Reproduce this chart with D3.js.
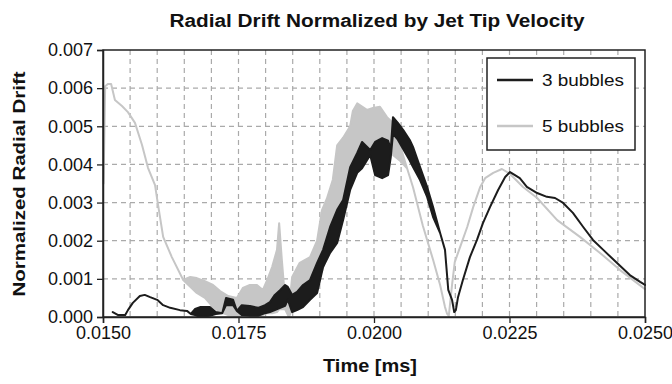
<!DOCTYPE html>
<html>
<head>
<meta charset="utf-8">
<script src="https://cdn.jsdelivr.net/npm/d3@7"></script>
<style>
  body { margin: 0; background: #fff; }
  text { font-family: "Liberation Sans", Arial, sans-serif; fill: #111; }
</style>
</head>
<body>
<script>
// values: [time, low, high] (high omitted where the trace is a single line)
const bubbles3 = [
  [0.01518, 0.00013], [0.01528, 0.00005], [0.01541, 0.00005], [0.01546, 0.00018],
  [0.01555, 0.00037], [0.01568, 0.00055], [0.01577, 0.00058], [0.01587, 0.00052],
  [0.01600, 0.00045], [0.01611, 0.00031], [0.01624, 0.00024], [0.01642, 0.00018],
  [0.01655, 0.00016], [0.01662, 0.00008], [0.01670, 0.00005, 0.00021], [0.01679, 0.00000, 0.00026],
  [0.01697, 0.00003, 0.00026], [0.01708, 0.00008, 0.00013], [0.01720, 0.00010],
  [0.01727, 0.00031, 0.00050], [0.01740, 0.00031, 0.00045], [0.01747, 0.00016],
  [0.01756, 0.00005, 0.00031], [0.01771, 0.00003, 0.00029], [0.01786, 0.00003, 0.00024],
  [0.01799, 0.00010, 0.00031], [0.01808, 0.00013, 0.00039], [0.01817, 0.00018, 0.00058],
  [0.01827, 0.00024, 0.00071], [0.01836, 0.00029, 0.00084], [0.01841, 0.00045, 0.00079],
  [0.01849, 0.00013, 0.00058], [0.01858, 0.00018, 0.00066], [0.01869, 0.00026, 0.00084],
  [0.01882, 0.00045, 0.00097], [0.01895, 0.00063, 0.00142], [0.01906, 0.00131, 0.00176],
  [0.01919, 0.00168, 0.00236], [0.01932, 0.00194, 0.00281], [0.01943, 0.00254, 0.00307],
  [0.01956, 0.00333, 0.00393], [0.01969, 0.00378, 0.00430], [0.01978, 0.00390, 0.00459],
  [0.01993, 0.00425, 0.00438], [0.02002, 0.00372, 0.00459], [0.02015, 0.00364, 0.00469],
  [0.02026, 0.00372, 0.00462], [0.02031, 0.00420, 0.00440], [0.02035, 0.00480, 0.00524],
  [0.02044, 0.00465, 0.00509], [0.02054, 0.00440, 0.00490], [0.02066, 0.00410, 0.00464],
  [0.02072, 0.00393, 0.00446], [0.02085, 0.00359, 0.00393], [0.02098, 0.00315, 0.00341],
  [0.02109, 0.00262, 0.00288], [0.02122, 0.00220], [0.02131, 0.00176], [0.02137, 0.00071],
  [0.02144, 0.00045], [0.02148, 0.00013], [0.02151, 0.00018], [0.02155, 0.00052],
  [0.02164, 0.00097], [0.02177, 0.00157], [0.02190, 0.00202], [0.02201, 0.00246],
  [0.02214, 0.00288], [0.02229, 0.00333], [0.02242, 0.00367], [0.02251, 0.00380],
  [0.02269, 0.00364], [0.02282, 0.00341], [0.02301, 0.00325], [0.02319, 0.00315],
  [0.02334, 0.00312], [0.02349, 0.00299], [0.02367, 0.00273], [0.02386, 0.00236],
  [0.02404, 0.00202], [0.02423, 0.00176], [0.02448, 0.00142], [0.02472, 0.00110],
  [0.02491, 0.00092], [0.02500, 0.00084]
];

const bubbles5 = [
  [0.01501, 0.00350], [0.01504, 0.00605], [0.01509, 0.00611], [0.01515, 0.00611],
  [0.01522, 0.00569], [0.01535, 0.00553], [0.01546, 0.00537], [0.01559, 0.00509],
  [0.01572, 0.00451], [0.01583, 0.00391], [0.01596, 0.00346], [0.01601, 0.00299],
  [0.01611, 0.00210], [0.01627, 0.00157], [0.01648, 0.00097],
  [0.01661, 0.00079, 0.00105], [0.01673, 0.00063, 0.00102], [0.01688, 0.00050, 0.00094],
  [0.01703, 0.00026, 0.00084], [0.01716, 0.00013, 0.00068], [0.01731, 0.00005, 0.00055],
  [0.01747, 0.00003, 0.00050], [0.01758, 0.00003, 0.00076], [0.01771, 0.00005, 0.00084],
  [0.01784, 0.00005, 0.00084], [0.01795, 0.00005, 0.00071], [0.01803, 0.00010, 0.00097],
  [0.01812, 0.00010, 0.00131], [0.01821, 0.00013, 0.00176], [0.01825, 0.00020, 0.00246],
  [0.01830, 0.00020, 0.00149], [0.01836, 0.00020, 0.00045], [0.01843, 0.00000, 0.00020],
  [0.01849, 0.00020, 0.00105], [0.01863, 0.00026, 0.00142], [0.01882, 0.00070, 0.00157],
  [0.01895, 0.00097, 0.00200], [0.01904, 0.00120, 0.00280], [0.01913, 0.00160, 0.00310],
  [0.01924, 0.00200, 0.00360], [0.01932, 0.00240, 0.00450], [0.01943, 0.00280, 0.00470],
  [0.01956, 0.00370, 0.00500], [0.01961, 0.00390, 0.00540], [0.01969, 0.00440, 0.00560],
  [0.01987, 0.00440, 0.00543], [0.01998, 0.00445, 0.00548], [0.02011, 0.00440, 0.00551],
  [0.02024, 0.00440, 0.00524], [0.02035, 0.00425, 0.00509], [0.02048, 0.00410, 0.00450],
  [0.02061, 0.00390], [0.02072, 0.00340], [0.02090, 0.00240], [0.02109, 0.00150],
  [0.02122, 0.00084], [0.02131, 0.00026], [0.02135, 0.00008], [0.02138, 0.00003],
  [0.02144, 0.00084], [0.02149, 0.00144], [0.02159, 0.00184], [0.02172, 0.00236],
  [0.02183, 0.00288], [0.02196, 0.00341], [0.02205, 0.00364], [0.02220, 0.00378],
  [0.02236, 0.00388], [0.02251, 0.00375], [0.02275, 0.00341], [0.02301, 0.00312],
  [0.02338, 0.00254], [0.02380, 0.00210], [0.02417, 0.00168], [0.02454, 0.00123],
  [0.02500, 0.00073]
];

const xTicks = [0.0150, 0.0175, 0.0200, 0.0225, 0.0250];
const xGrid = d3.range(31, 50).map(i => i * 0.0005);
const yTicks = [0, 0.001, 0.002, 0.003, 0.004, 0.005, 0.006, 0.007];
const seriesNames = ['3 bubbles', '5 bubbles'];
const seriesColours = ['#1c1c1c', '#c6c6c6'];

const W = 672, H = 384;
const plot = { left: 103, right: 645, top: 50, bottom: 317 };

const svg = d3.select('body').append('svg')
    .attr('width', W)
    .attr('height', H);

const x = d3.scaleLinear().domain([0.015, 0.025]).range([plot.left, plot.right]);
const y = d3.scaleLinear().domain([0, 0.007]).range([plot.bottom, plot.top]);

// dashed grid
svg.append('g')
    .selectAll('line.hg')
    .data(yTicks.slice(1, -1))
    .enter().append('line')
    .attr('x1', plot.left).attr('x2', plot.right)
    .attr('y1', d => y(d)).attr('y2', d => y(d))
    .attr('stroke', '#aaa').attr('stroke-width', 1.2)
    .attr('stroke-dasharray', '5,4');
svg.append('g')
    .selectAll('line.vg')
    .data(xGrid)
    .enter().append('line')
    .attr('x1', d => x(d)).attr('x2', d => x(d))
    .attr('y1', plot.top).attr('y2', plot.bottom)
    .attr('stroke', '#aaa').attr('stroke-width', 1.2)
    .attr('stroke-dasharray', '5,4');

// series: filled band between low and high, outlined so single traces read as lines
const area = d3.area()
    .x(d => x(d[0]))
    .y0(d => y(d[1]))
    .y1(d => y(d.length > 2 ? d[2] : d[1]));

[bubbles5, bubbles3].forEach((s, i) => {
    const colour = seriesColours[1 - i];
    svg.append('path')
        .datum(s)
        .attr('d', area)
        .attr('fill', colour)
        .attr('stroke', colour)
        .attr('stroke-width', 2)
        .attr('stroke-linejoin', 'round');
});

// frame
svg.append('rect')
    .attr('x', plot.left).attr('y', plot.top)
    .attr('width', plot.right - plot.left).attr('height', plot.bottom - plot.top)
    .attr('fill', 'none').attr('stroke', '#222').attr('stroke-width', 1.5);

const yAxis = svg.append('g')
    .attr('transform', `translate(${plot.left},0)`)
    .call(d3.axisLeft(y).tickValues(yTicks).tickSize(6).tickPadding(4).tickFormat(d3.format('.3f')));
const xAxis = svg.append('g')
    .attr('transform', `translate(0,${plot.bottom})`)
    .call(d3.axisBottom(x).tickValues(xTicks).tickSize(6).tickPadding(3).tickFormat(d3.format('.4f')));
[yAxis, xAxis].forEach(a => {
    a.select('.domain').attr('stroke', '#222').attr('stroke-width', 1.5);
    a.selectAll('.tick line').attr('stroke', '#222').attr('stroke-width', 1.3);
    a.selectAll('.tick text').attr('font-size', 18).attr('fill', '#111')
        .style('font-family', '"Liberation Sans", Arial, sans-serif');
});

// titles
svg.append('text')
    .attr('x', 377).attr('y', 27)
    .attr('text-anchor', 'middle')
    .attr('font-size', 18).attr('font-weight', 'bold')
    .attr('textLength', 415).attr('lengthAdjust', 'spacingAndGlyphs')
    .text('Radial Drift Normalized by Jet Tip Velocity');
svg.append('text')
    .attr('x', 370).attr('y', 372)
    .attr('text-anchor', 'middle')
    .attr('font-size', 18).attr('font-weight', 'bold')
    .attr('textLength', 94).attr('lengthAdjust', 'spacingAndGlyphs')
    .text('Time [ms]');
svg.append('text')
    .attr('transform', 'translate(25,184) rotate(-90)')
    .attr('text-anchor', 'middle')
    .attr('font-size', 17).attr('font-weight', 'bold')
    .attr('textLength', 225).attr('lengthAdjust', 'spacingAndGlyphs')
    .text('Normalized Radial Drift');

// legend
const legend = svg.append('g').attr('transform', 'translate(487,58)');
legend.append('rect')
    .attr('width', 148).attr('height', 92)
    .attr('fill', '#fff').attr('stroke', '#222').attr('stroke-width', 1.5);
seriesNames.forEach((name, i) => {
    const row = legend.append('g').attr('transform', `translate(0,${22 + i * 46})`);
    row.append('line')
        .attr('x1', 10).attr('x2', 46)
        .attr('stroke', seriesColours[i]).attr('stroke-width', 2.5);
    row.append('text')
        .attr('x', 55).attr('y', 6)
        .attr('font-size', 17)
        .attr('textLength', 82).attr('lengthAdjust', 'spacingAndGlyphs')
        .text(name);
});
</script>
</body>
</html>
